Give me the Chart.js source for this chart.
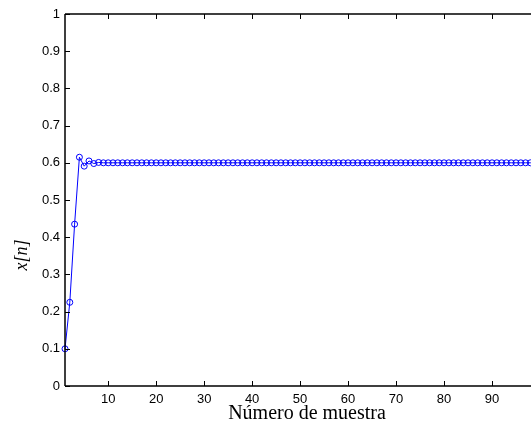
<!DOCTYPE html>
<html>
<head>
<meta charset="utf-8">
<script src="https://cdn.jsdelivr.net/npm/chart.js@4.4.0/dist/chart.umd.min.js"></script>
<style>
  html, body { margin: 0; padding: 0; background: #fff; overflow: hidden; }
  #wrap { width: 545px; height: 433px; }
</style>
</head>
<body>
<div id="wrap"><canvas id="myChart"></canvas></div>
<script>
(function () {
  'use strict'

  // x[n] for each sample
  const valores = [
    0.1, 0.225, 0.435, 0.615, 0.591, 0.605, 0.598, 0.601, 0.6, 0.6,
    0.6, 0.6, 0.6, 0.6, 0.6, 0.6, 0.6, 0.6, 0.6, 0.6,
    0.6, 0.6, 0.6, 0.6, 0.6, 0.6, 0.6, 0.6, 0.6, 0.6,
    0.6, 0.6, 0.6, 0.6, 0.6, 0.6, 0.6, 0.6, 0.6, 0.6,
    0.6, 0.6, 0.6, 0.6, 0.6, 0.6, 0.6, 0.6, 0.6, 0.6,
    0.6, 0.6, 0.6, 0.6, 0.6, 0.6, 0.6, 0.6, 0.6, 0.6,
    0.6, 0.6, 0.6, 0.6, 0.6, 0.6, 0.6, 0.6, 0.6, 0.6,
    0.6, 0.6, 0.6, 0.6, 0.6, 0.6, 0.6, 0.6, 0.6, 0.6,
    0.6, 0.6, 0.6, 0.6, 0.6, 0.6, 0.6, 0.6, 0.6, 0.6,
    0.6, 0.6, 0.6, 0.6, 0.6, 0.6, 0.6, 0.6, 0.6, 0.6
  ]
  const muestras = valores.map((v, i) => i + 1)
  const xTicks = [10, 20, 30, 40, 50, 60, 70, 80, 90]
  const yTicks = [0, 0.1, 0.2, 0.3, 0.4, 0.5, 0.6, 0.7, 0.8, 0.9, 1]

  // matlab style box with inward ticks + axis titles
  const matlabAxes = {
    id: 'matlabAxes',
    afterDraw(chart) {
      const c = chart.ctx
      const a = chart.chartArea
      const xs = chart.scales.x
      const ys = chart.scales.y
      c.save()
      c.strokeStyle = '#000'
      c.lineWidth = 1.5
      c.beginPath()
      c.moveTo(a.left, a.top); c.lineTo(a.right, a.top)
      c.moveTo(a.left, a.top); c.lineTo(a.left, a.bottom)
      c.moveTo(a.left, a.bottom); c.lineTo(a.right, a.bottom)
      c.stroke()
      c.lineWidth = 1
      c.beginPath()
      xTicks.forEach(t => {
        const px = Math.round(xs.getPixelForValue(t)) + 0.5
        c.moveTo(px, a.bottom); c.lineTo(px, a.bottom - 5)
        c.moveTo(px, a.top); c.lineTo(px, a.top + 5)
      })
      yTicks.forEach(t => {
        const py = Math.round(ys.getPixelForValue(t)) + 0.5
        c.moveTo(a.left, py); c.lineTo(a.left + 5, py)
      })
      c.stroke()

      c.fillStyle = '#000'
      c.textAlign = 'center'
      c.textBaseline = 'middle'
      c.font = '20px "Liberation Serif", serif'
      c.fillText('Número de muestra', 307, 414)

      c.translate(22, 255)
      c.rotate(-Math.PI / 2)
      c.font = 'italic 18px "Liberation Serif", serif'
      c.fillText('x[n]', 0, 0)
      c.restore()
    }
  }

  var ctx = document.getElementById('myChart')
  const config = {
    type: 'line',
    data: {
      labels: muestras,
      datasets: [{
        label: 'x[n]',
        data: valores,
        borderColor: '#0000ff',
        borderWidth: 1,
        backgroundColor: 'transparent',
        pointBorderColor: '#0000ff',
        pointBackgroundColor: 'transparent',
        pointRadius: 3,
        pointBorderWidth: 1,
        tension: 0,
        clip: false
      }]
    },
    options: {
      responsive: true,
      maintainAspectRatio: false,
      animation: false,
      events: [],
      layout: { padding: { top: 14, right: 4, left: 0, bottom: 0 } },
      scales: {
        x: {
          type: 'linear',
          min: 1,
          max: 100,
          grid: { display: false, drawTicks: false },
          border: { display: false },
          afterBuildTicks: function (scale) {
            scale.ticks = xTicks.map(v => ({ value: v }))
          },
          afterFit: function (scale) { scale.height = 47 },
          ticks: {
            color: '#000',
            padding: 6,
            maxRotation: 0,
            callback: v => String(v),
            font: { family: '"Liberation Sans", Arial, sans-serif', size: 13 }
          }
        },
        y: {
          min: 0,
          max: 1,
          grid: { display: false, drawTicks: false },
          border: { display: false },
          afterBuildTicks: function (scale) {
            scale.ticks = yTicks.map(v => ({ value: v }))
          },
          afterFit: function (scale) { scale.width = 65 },
          ticks: {
            color: '#000',
            padding: 5,
            callback: v => String(v),
            font: { family: '"Liberation Sans", Arial, sans-serif', size: 13 }
          }
        }
      },
      plugins: {
        legend: { display: false },
        tooltip: { enabled: false }
      }
    },
    plugins: [matlabAxes]
  }
  var lineChart = new Chart(ctx, config)
})()
</script>
</body>
</html>
